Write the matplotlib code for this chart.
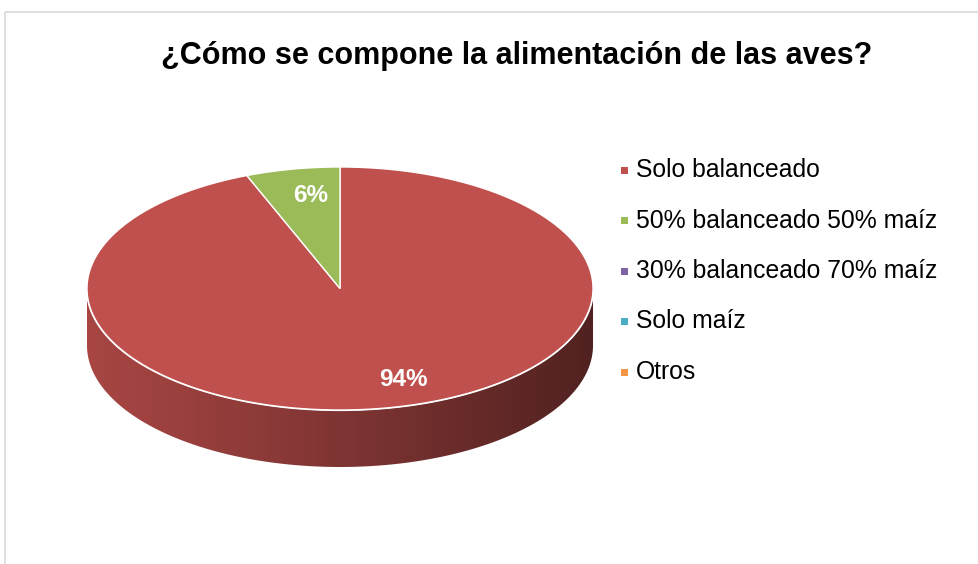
import numpy as np
import matplotlib
matplotlib.use("Agg")
import matplotlib.pyplot as plt
from matplotlib.patches import Polygon, Rectangle
from matplotlib.colors import to_rgb

# ---- data ----
title = "¿Cómo se compone la alimentación de las aves?"
categories = ["Solo balanceado", "50% balanceado 50% maíz",
              "30% balanceado 70% maíz", "Solo maíz", "Otros"]
values = [94, 6, 0, 0, 0]
colors = ["#C0504D", "#9BBB59", "#8064A2", "#4BACC6", "#F79646"]

plt.rcParams['font.family'] = ['Liberation Sans', 'DejaVu Sans']

W, H = 979, 564
fig = plt.figure(figsize=(W / 100, H / 100), dpi=100)
ax = fig.add_axes([0, 0, 1, 1])
ax.set_xlim(0, W)
ax.set_ylim(H, 0)
ax.axis("off")

# chart border
ax.add_patch(Rectangle((5.5, 11.5), W + 20, H + 20, fill=False,
                       edgecolor="#D9D9D9", linewidth=1.2, zorder=0))

# pie geometry (pixel space)
cx, cy, rx, ry, depth = 340.0, 288.5, 253.0, 121.5, 57.0


def pt(theta_deg, dy=0.0):
    t = np.radians(theta_deg)
    return cx + rx * np.sin(t), cy - ry * np.cos(t) + dy


total = float(sum(values))
start = 0.0
slices = []
for v, c in zip(values, colors):
    span = 360.0 * v / total
    slices.append((start, start + span, c, v))
    start += span

# side (front visible part: theta in [90, 270])
for a0, a1, c, v in slices:
    if v <= 0:
        continue
    lo, hi = max(a0, 90.0), min(a1, 270.0)
    if hi <= lo:
        continue
    th = np.linspace(lo, hi, 200)
    top = np.array([pt(t) for t in th])
    bot = np.array([pt(t, depth) for t in th[::-1]])
    verts = np.vstack([top, bot])
    poly = Polygon(verts, closed=True, facecolor="none", edgecolor="none")
    ax.add_patch(poly)
    base = np.array(to_rgb(c))
    xs = np.linspace(0, 1, 400)
    shade = 0.87 - 0.45 * xs ** 1.1
    grad = np.clip(base[None, :] * shade[:, None], 0, 1)
    img = np.tile(grad[None, :, :], (2, 1, 1))
    im = ax.imshow(img, extent=(cx - rx, cx + rx, cy + ry + depth + 2, cy - 2),
                   aspect="auto", interpolation="bilinear", zorder=1)
    im.set_clip_path(poly)

# white rim along the front edge of the top
th = np.linspace(90, 270, 300)
rim = np.array([pt(t) for t in th])
ax.plot(rim[:, 0], rim[:, 1], color="white", lw=1.6, zorder=2)

# top wedges
for a0, a1, c, v in slices:
    if v <= 0:
        continue
    th = np.linspace(a0, a1, max(int((a1 - a0) * 2), 4))
    arc = np.array([pt(t) for t in th])
    verts = np.vstack([[cx, cy], arc])
    ax.add_patch(Polygon(verts, closed=True, facecolor=c, edgecolor="white",
                         linewidth=1.0, joinstyle="miter", zorder=3))

# percentage labels
label_pos = {0: (403, 379), 1: (311, 196)}
for i, (a0, a1, c, v) in enumerate(slices):
    if v <= 0:
        continue
    x, y = label_pos[i]
    ax.text(x, y, f"{round(100 * v / total)}%", color="white", fontsize=17.5,
            fontweight="bold", ha="center", va="center", zorder=5)

# title
ax.text(517, 56, title, fontsize=22, fontweight="bold", ha="center",
        va="center", color="black")

# legend
ly0, ldy = 170, 50.5
for i, (lab, c) in enumerate(zip(categories, colors)):
    y = ly0 + i * ldy
    ax.add_patch(Rectangle((621, y - 3.5), 7, 7, facecolor=c, edgecolor="none"))
    ax.text(636, y, lab, fontsize=17.8, ha="left", va="center", color="black")

fig.savefig("out.png", dpi=100)
